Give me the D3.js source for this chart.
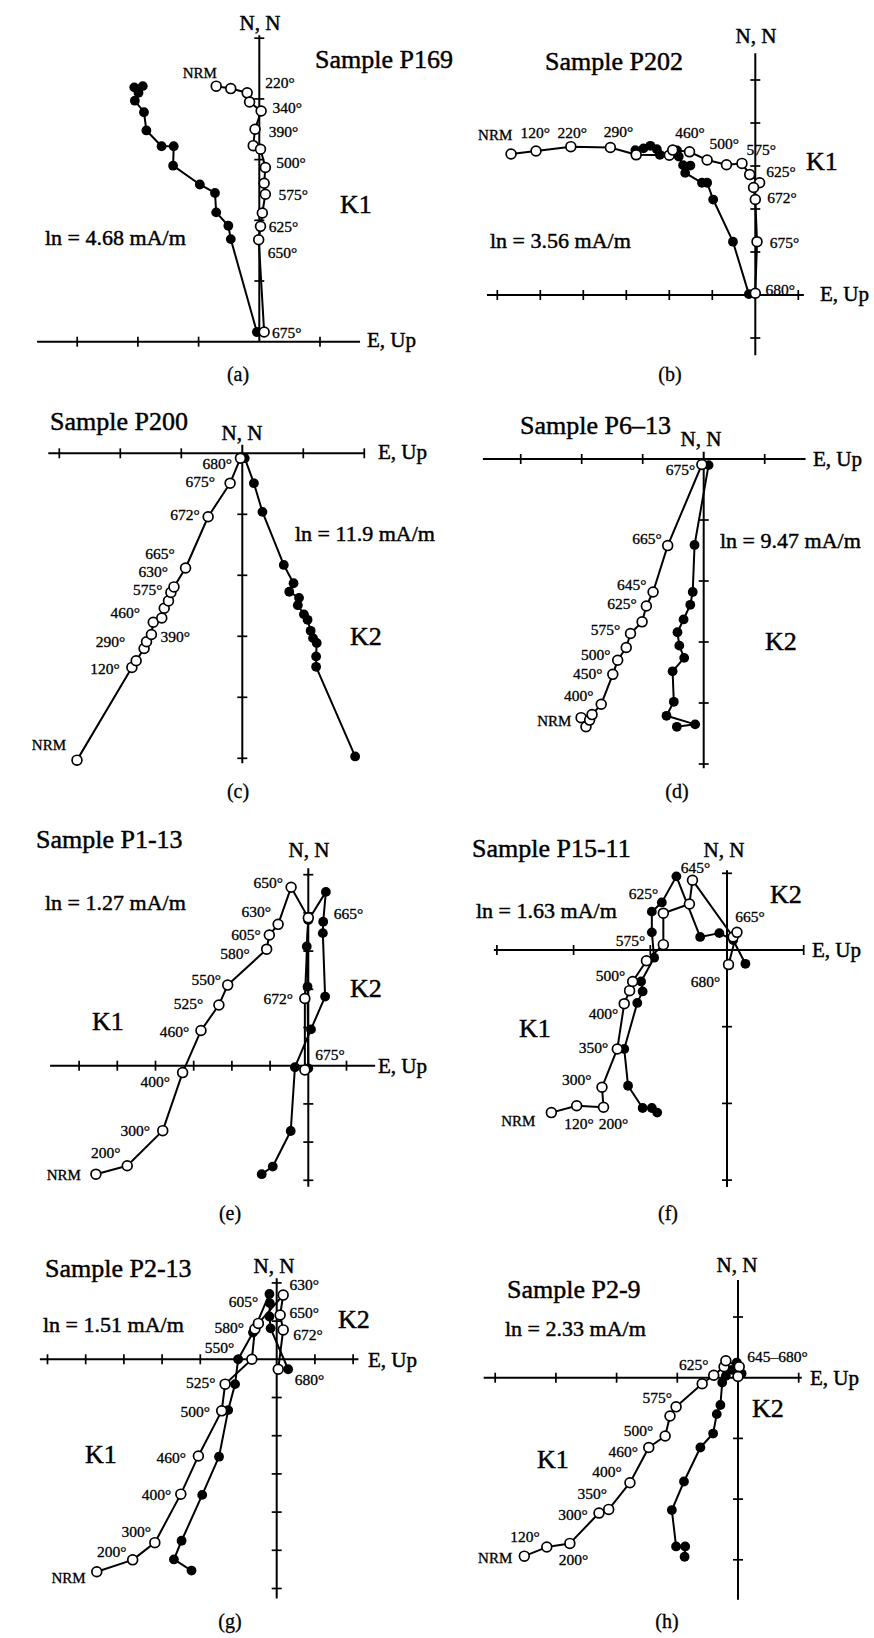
<!DOCTYPE html>
<html><head><meta charset="utf-8">
<script src="https://cdn.jsdelivr.net/npm/d3@7"></script>
<style>
html,body{margin:0;padding:0;background:#fff;}
svg text{font-family:"Liberation Serif","Times New Roman",serif;fill:#000;stroke:#000;stroke-width:0.45px;}
svg text.small{stroke-width:0.3px;}
</style></head>
<body>
<svg id="chart" width="874" height="1638"></svg>
<script>
// ---------------- DATA (values in axis-tick units) ----------------
const panelIds = ["a","b","c","d","e","f","g","h"];
const titles = ["Sample P169","Sample P202","Sample P200","Sample P6\u201313","Sample P1-13","Sample P15-11","Sample P2-13","Sample P2-9"];
const intensities = ["ln = 4.68 mA/m","ln = 3.56 mA/m","ln = 11.9 mA/m","ln = 9.47 mA/m","ln = 1.27 mA/m","ln = 1.63 mA/m","ln = 1.51 mA/m","ln = 2.33 mA/m"];
const components = [["K1"],["K1"],["K2"],["K2"],["K1","K2"],["K2","K1"],["K2","K1"],["K2","K1"]];
const axisLabelN = "N, N";
const axisLabelE = "E, Up";

// open circles = vertical projection, filled = horizontal projection
const a_open = [[-0.71,4.21],[-0.47,4.17],[-0.20,4.10],[-0.16,3.95],[0.03,3.80],[-0.07,3.50],[-0.10,3.23],[0.02,3.17],[0.10,2.87],[0.08,2.61],[0.10,2.43],[0.05,2.12],[0.02,1.90],[-0.01,1.68],[0.08,0.16]];
const a_filled = [[-2.06,4.19],[-1.92,4.21],[-1.99,4.10],[-2.05,3.97],[-1.90,3.78],[-1.86,3.48],[-1.61,3.22],[-1.41,3.22],[-1.42,2.90],[-0.98,2.59],[-0.73,2.45],[-0.71,2.13],[-0.51,1.91],[-0.47,1.69],[-0.04,0.16]];
const a_labels = [["NRM",-0.98,4.34],["220\u00b0",0.34,4.18],["340\u00b0",0.46,3.77],["390\u00b0",0.40,3.37],["500\u00b0",0.52,2.86],["575\u00b0",0.56,2.33],["625\u00b0",0.40,1.81],["650\u00b0",0.38,1.38],["675\u00b0",0.45,0.06]];

const b_open = [[-5.68,3.28],[-5.10,3.35],[-4.29,3.45],[-3.37,3.43],[-2.77,3.26],[-2.00,3.25],[-1.92,3.37],[-1.53,3.33],[-1.12,3.14],[-0.67,3.03],[-0.31,3.06],[-0.13,2.80],[0.10,2.61],[-0.04,2.50],[0.00,2.22],[0.04,1.24],[0.00,0.04]];
const b_filled = [[-2.79,3.37],[-2.60,3.41],[-2.44,3.47],[-2.29,3.39],[-2.22,3.26],[-1.82,3.36],[-1.78,3.22],[-1.68,3.02],[-1.51,3.01],[-1.63,2.84],[-1.24,2.61],[-1.12,2.61],[-0.98,2.22],[-0.52,1.24],[-0.15,0.02]];
const b_labels = [["NRM",-6.05,3.60],["120\u00b0",-5.12,3.64],["220\u00b0",-4.26,3.64],["290\u00b0",-3.18,3.67],["460\u00b0",-1.52,3.66],["500\u00b0",-0.72,3.39],["575\u00b0",0.14,3.26],["625\u00b0",0.60,2.75],["672\u00b0",0.62,2.13],["675\u00b0",0.68,1.09],["680\u00b0",0.58,0.00]];

const c_open = [[-2.71,-5.03],[-1.81,-3.51],[-1.74,-3.40],[-1.61,-3.20],[-1.57,-3.09],[-1.49,-2.97],[-1.46,-2.77],[-1.32,-2.70],[-1.28,-2.54],[-1.21,-2.42],[-1.17,-2.28],[-1.12,-2.19],[-0.93,-1.88],[-0.56,-1.04],[-0.20,-0.49],[-0.03,-0.08]];
const c_filled = [[1.85,-4.97],[1.21,-3.50],[1.21,-3.33],[1.22,-3.11],[1.16,-3.03],[1.12,-2.91],[1.07,-2.73],[1.01,-2.64],[0.91,-2.49],[0.93,-2.37],[0.77,-2.27],[0.84,-2.13],[0.68,-1.83],[0.33,-0.96],[0.19,-0.49],[0.04,-0.08]];
const c_labels = [["680\u00b0",-0.41,-0.26],["675\u00b0",-0.69,-0.56],["672\u00b0",-0.94,-1.10],["665\u00b0",-1.35,-1.73],["630\u00b0",-1.46,-2.02],["575\u00b0",-1.55,-2.32],["460\u00b0",-1.92,-2.70],["390\u00b0",-1.10,-3.09],["290\u00b0",-2.16,-3.17],["120\u00b0",-2.25,-3.61],["NRM",-3.17,-4.86]];

const d_open = [[-2.01,-4.24],[-1.93,-4.39],[-1.87,-4.28],[-1.83,-4.19],[-1.68,-4.02],[-1.49,-3.53],[-1.41,-3.30],[-1.27,-3.09],[-1.20,-2.86],[-1.01,-2.67],[-0.94,-2.41],[-0.83,-2.18],[-0.59,-1.42],[-0.03,-0.09]];
const d_filled = [[-0.44,-4.39],[-0.14,-4.35],[-0.61,-4.21],[-0.49,-3.98],[-0.51,-3.48],[-0.32,-3.26],[-0.40,-3.06],[-0.43,-2.84],[-0.33,-2.63],[-0.22,-2.39],[-0.18,-2.18],[-0.15,-1.41],[0.08,-0.10]];
const d_labels = [["675\u00b0",-0.38,-0.26],["665\u00b0",-0.93,-1.40],["645\u00b0",-1.18,-2.15],["625\u00b0",-1.34,-2.46],["575\u00b0",-1.61,-2.89],["500\u00b0",-1.77,-3.30],["450\u00b0",-1.90,-3.60],["400\u00b0",-2.05,-3.97],["NRM",-2.45,-4.37]];

const e_open = [[-5.56,-2.84],[-4.74,-2.62],[-3.81,-1.70],[-3.29,-0.18],[-2.81,0.92],[-2.34,1.59],[-2.11,2.11],[-1.09,3.05],[-1.02,3.42],[-0.79,3.70],[-0.45,4.67],[0.00,3.87],[-0.09,1.76],[-0.09,-0.11]];
const e_filled = [[-1.22,-2.84],[-0.93,-2.64],[-0.46,-1.71],[-0.35,-0.04],[0.07,0.95],[0.44,1.81],[0.38,3.47],[0.39,3.77],[0.46,4.55],[0.00,3.81],[-0.04,3.12],[-0.02,2.07],[0.00,-0.07]];
const e_labels = [["650\u00b0",-1.05,4.64],["630\u00b0",-1.36,3.88],["605\u00b0",-1.63,3.29],["580\u00b0",-1.92,2.79],["550\u00b0",-2.67,2.11],["525\u00b0",-3.14,1.48],["460\u00b0",-3.50,0.74],["400\u00b0",-4.01,-0.55],["300\u00b0",-4.53,-1.84],["200\u00b0",-5.30,-2.42],["NRM",-6.40,-2.99],["665\u00b0",1.05,3.83],["672\u00b0",-0.79,1.62],["675\u00b0",0.57,0.15]];

const f_open = [[-2.29,-2.12],[-1.96,-2.03],[-1.61,-2.05],[-1.63,-1.79],[-1.43,-1.29],[-1.34,-0.70],[-1.27,-0.53],[-1.23,-0.41],[-1.05,-0.14],[-0.83,0.07],[-0.83,0.48],[-0.49,0.60],[-0.45,0.91],[0.08,0.17],[0.13,0.23],[0.02,-0.19]];
const f_filled = [[-0.91,-2.12],[-0.98,-2.06],[-1.10,-2.06],[-1.29,-1.77],[-1.34,-1.29],[-1.17,-0.69],[-1.10,-0.54],[-1.12,-0.41],[-0.95,-0.10],[-0.98,0.23],[-0.98,0.50],[-0.85,0.62],[-0.66,0.96],[-0.35,0.17],[-0.10,0.22],[0.08,0.13],[0.24,-0.18]];
const f_labels = [["645\u00b0",-0.41,1.01],["625\u00b0",-1.09,0.66],["665\u00b0",0.30,0.36],["575\u00b0",-1.26,0.05],["680\u00b0",-0.28,-0.48],["500\u00b0",-1.52,-0.41],["400\u00b0",-1.61,-0.90],["350\u00b0",-1.74,-1.34],["300\u00b0",-1.96,-1.76],["NRM",-2.72,-2.29],["120\u00b0",-1.93,-2.33],["200\u00b0",-1.48,-2.33]];

const g_open = [[-4.71,-5.56],[-3.77,-5.25],[-3.19,-4.80],[-2.51,-3.53],[-2.05,-2.53],[-1.44,-1.35],[-1.35,-0.65],[-0.65,0.00],[-0.57,0.79],[-0.48,0.94],[0.17,1.68],[0.09,1.16],[0.17,0.77],[0.04,-0.26]];
const g_filled = [[-2.23,-5.53],[-2.69,-5.24],[-2.49,-4.75],[-1.95,-3.55],[-1.51,-2.55],[-1.27,-1.33],[-1.09,-0.65],[-1.01,0.00],[-0.62,0.70],[-0.19,1.71],[-0.18,1.47],[-0.19,1.12],[-0.16,0.81],[0.30,-0.26]];
const g_labels = [["630\u00b0",0.72,1.81],["605\u00b0",-0.87,1.38],["650\u00b0",0.72,1.07],["580\u00b0",-1.24,0.68],["672\u00b0",0.82,0.51],["550\u00b0",-1.50,0.16],["525\u00b0",-1.99,-0.76],["680\u00b0",0.86,-0.67],["500\u00b0",-2.13,-1.52],["460\u00b0",-2.76,-2.71],["400\u00b0",-3.15,-3.68],["300\u00b0",-3.68,-4.66],["200\u00b0",-4.32,-5.17],["NRM",-5.45,-5.86]];

const h_open = [[-3.52,-2.94],[-3.15,-2.79],[-2.77,-2.73],[-2.29,-2.23],[-2.13,-2.17],[-1.78,-1.73],[-1.47,-1.15],[-1.20,-0.96],[-1.12,-0.63],[-1.02,-0.48],[-0.59,-0.10],[-0.40,0.04],[-0.23,0.18],[-0.20,0.28],[0.02,0.18],[0.00,0.02]];
const h_filled = [[-0.88,-2.95],[-0.87,-2.78],[-1.02,-2.78],[-1.09,-2.18],[-0.89,-1.71],[-0.62,-1.15],[-0.41,-0.92],[-0.35,-0.60],[-0.29,-0.45],[-0.26,-0.08],[-0.20,0.03],[-0.10,0.13],[-0.02,0.25],[0.06,0.07]];
const h_labels = [["645\u2013680\u00b0",0.65,0.26],["625\u00b0",-0.73,0.12],["575\u00b0",-1.33,-0.41],["500\u00b0",-1.64,-0.96],["460\u00b0",-1.89,-1.31],["400\u00b0",-2.16,-1.63],["350\u00b0",-2.40,-2.00],["300\u00b0",-2.72,-2.34],["120\u00b0",-3.51,-2.70],["NRM",-4.00,-3.06],["200\u00b0",-2.71,-3.09]];

const openSeries = [a_open,b_open,c_open,d_open,e_open,f_open,g_open,h_open];
const filledSeries = [a_filled,b_filled,c_filled,d_filled,e_filled,f_filled,g_filled,h_filled];
const stepLabels = [a_labels,b_labels,c_labels,d_labels,e_labels,f_labels,g_labels,h_labels];

// ---------------- LAYOUT (pixels) ----------------
const layout = [
 {ox:259.3, oy:341.7, u:60.7, xr:[-3.66,1.66], yr:[0,5.05],   nn:[260,30],  title:[315,68],  ln:[45,245],  comp:[[340,213]], eup:[367,347], cap:[238,381]},
 {ox:755.3, oy:295,   u:43,   xr:[-6.24,1.13], yr:[-1.40,5.62], nn:[756,43], title:[545,70],  ln:[490,248], comp:[[806,170]], eup:[820,301], cap:[670,381]},
 {ox:242.3, oy:453.3, u:61,   xr:[-3.18,2.01], yr:[-5.08,0.14], nn:[242,440], title:[50,430], ln:[295,541], comp:[[350,645]], eup:[378,459], cap:[238,798]},
 {ox:703.7, oy:459,   u:61,   xr:[-3.62,1.67], yr:[-5.07,0.12], nn:[701,446], title:[520,434], ln:[720,548], comp:[[765,650]], eup:[813,466], cap:[677,798]},
 {ox:308.3, oy:1065.7,u:38.2, xr:[-6.76,1.75], yr:[-3.17,5.17], nn:[309,857], title:[36,848], ln:[45,910],  comp:[[92,1030],[350,997]], eup:[378,1073], cap:[230,1220]},
 {ox:727,   oy:950,   u:76.7, xr:[-3.04,1.0],  yr:[-3.09,1.04], nn:[724,857], title:[472,857], ln:[476,918], comp:[[770,903],[519,1037]], eup:[812,957], cap:[668,1220]},
 {ox:276.7, oy:1359.3,u:38.2, xr:[-6.2,2.14],  yr:[-6.26,2.12], nn:[274,1273], title:[45,1277], ln:[43,1332], comp:[[338,1328],[85,1463]], eup:[368,1367], cap:[230,1628]},
 {ox:738,   oy:1377.7,u:60.7, xr:[-4.19,1.05], yr:[-3.66,1.61], nn:[737,1272], title:[507,1298], ln:[505,1336], comp:[[752,1417],[537,1468]], eup:[810,1385], cap:[667,1628]}
];

const svg = d3.select("#chart");
const LW = 2, R = 4.9, TICK = 5;

panelIds.forEach((id, i) => {
  const L = layout[i];
  const x = d3.scaleLinear().domain(L.xr).range([L.ox + L.xr[0]*L.u, L.ox + L.xr[1]*L.u]);
  const y = d3.scaleLinear().domain(L.yr).range([L.oy - L.yr[0]*L.u, L.oy - L.yr[1]*L.u]);
  const g = svg.append("g").attr("class","panel-"+id);

  // axes
  g.append("line").attr("x1",x(L.xr[0])).attr("x2",x(L.xr[1])).attr("y1",y(0)).attr("y2",y(0))
    .attr("stroke","#000").attr("stroke-width",LW);
  g.append("line").attr("x1",x(0)).attr("x2",x(0)).attr("y1",y(L.yr[0])).attr("y2",y(L.yr[1]))
    .attr("stroke","#000").attr("stroke-width",LW);
  const xt = d3.range(Math.ceil(L.xr[0]), Math.floor(L.xr[1])+1).filter(v=>v!==0);
  const yt = d3.range(Math.ceil(L.yr[0]), Math.floor(L.yr[1])+1).filter(v=>v!==0);
  g.selectAll(".xt").data(xt).join("line").attr("x1",d=>x(d)).attr("x2",d=>x(d))
    .attr("y1",y(0)-TICK).attr("y2",y(0)+TICK).attr("stroke","#000").attr("stroke-width",1.7);
  g.selectAll(".yt").data(yt).join("line").attr("y1",d=>y(d)).attr("y2",d=>y(d))
    .attr("x1",x(0)-TICK).attr("x2",x(0)+TICK).attr("stroke","#000").attr("stroke-width",1.7);

  const line = d3.line().x(d=>x(d[0])).y(d=>y(d[1]));
  g.append("path").datum(filledSeries[i]).attr("d",line).attr("fill","none").attr("stroke","#000").attr("stroke-width",LW).attr("stroke-linejoin","round");
  g.append("path").datum(openSeries[i]).attr("d",line).attr("fill","none").attr("stroke","#000").attr("stroke-width",LW).attr("stroke-linejoin","round");
  g.selectAll(".fp").data(filledSeries[i]).join("circle").attr("cx",d=>x(d[0])).attr("cy",d=>y(d[1])).attr("r",R).attr("fill","#000");
  g.selectAll(".op").data(openSeries[i]).join("circle").attr("cx",d=>x(d[0])).attr("cy",d=>y(d[1])).attr("r",R)
    .attr("fill","#fff").attr("stroke","#000").attr("stroke-width",1.7);

  // step labels
  g.selectAll(".sl").data(stepLabels[i]).join("text").attr("class","small").attr("x",d=>x(d[1])).attr("y",d=>y(d[2]))
    .attr("text-anchor","middle").attr("font-size", d=>d[0]==="NRM"?15:15.5).text(d=>d[0]);

  // annotations
  g.append("text").attr("x",L.nn[0]).attr("y",L.nn[1]).attr("text-anchor","middle").attr("font-size",21).text(axisLabelN);
  g.append("text").attr("x",L.eup[0]).attr("y",L.eup[1]).attr("font-size",21).text(axisLabelE);
  g.append("text").attr("x",L.title[0]).attr("y",L.title[1]).attr("font-size",26).text(titles[i]);
  g.append("text").attr("x",L.ln[0]).attr("y",L.ln[1]).attr("font-size",22).text(intensities[i]);
  components[i].forEach((c,k)=>{
    g.append("text").attr("x",L.comp[k][0]).attr("y",L.comp[k][1]).attr("font-size",26).text(c);
  });
  g.append("text").attr("x",L.cap[0]).attr("y",L.cap[1]).attr("text-anchor","middle").attr("font-size",20).attr("class","small").text("("+id+")");
});
</script>
</body></html>
